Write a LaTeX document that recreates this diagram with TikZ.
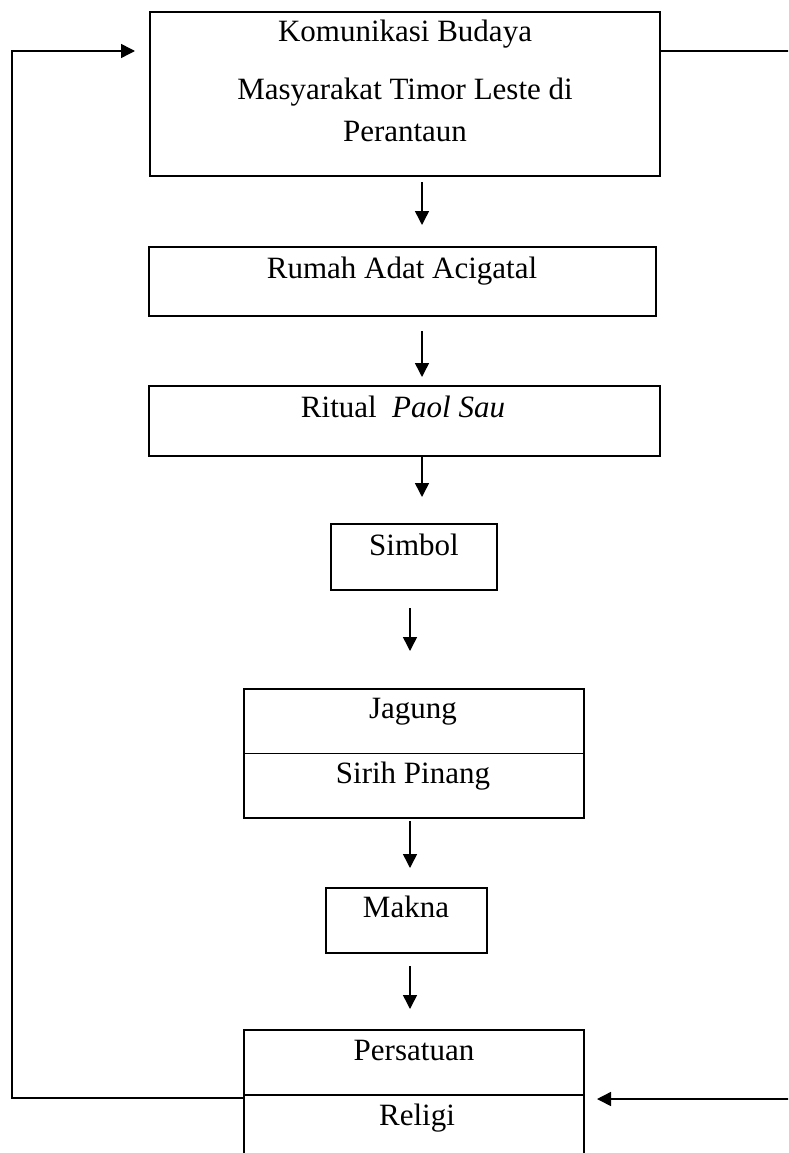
\documentclass[tikz,border=0pt]{standalone}
\usepackage{fontspec}
\setmainfont{Liberation Serif}
\usetikzlibrary{arrows.meta}
\begin{document}
\begin{tikzpicture}[x=1pt,y=-1pt,
  box/.style={draw,line width=2pt,inner sep=0pt},
  lbl/.style={anchor=base,inner sep=0pt,font=\fontsize{31}{37}\selectfont},
  arr/.style={line width=1.5pt,-{Triangle[length=14pt,width=14pt]}},
  fb/.style={line width=1.5pt}]
\useasboundingbox (0,0) rectangle (788,1153);
\fill[white] (0,0) rectangle (788,1153);
\clip (0,0) rectangle (788,1153);
% boxes
\node[box,minimum width=510pt,minimum height=164pt] (top) at (405,94) {};
\node[box,minimum width=507pt,minimum height=69pt] (rumah) at (402.5,281.5) {};
\node[box,minimum width=511pt,minimum height=70pt] (ritual) at (404.5,421) {};
\node[box,minimum width=166pt,minimum height=66pt] (simbol) at (414,557) {};
\node[box,minimum width=340pt,minimum height=129pt] (jag) at (414,753.5) {};
\node[box,minimum width=161pt,minimum height=65pt] (makna) at (406.5,920.5) {};
\node[box,minimum width=340pt,minimum height=130pt] (pr) at (414,1095) {};
\draw[line width=1.7pt] (jag.west) -- (jag.east);
\draw[line width=2pt] (pr.west) -- (pr.east);
% labels
\node[lbl] (t1) at (405,42) {Komunikasi Budaya};
\node[lbl] (t2) at (405,100) {Masyarakat Timor Leste di};
\node[lbl] (t3) at (405,142) {Perantaun};
\node[lbl] (t4) at (402,278) {Rumah Adat Acigatal};
\node[lbl] (t5) at (403,417) {Ritual\ \ \textit{Paol Sau}};
\node[lbl] (t6) at (414,555) {Simbol};
\node[lbl] (t7) at (413,718) {Jagung};
\node[lbl] (t8) at (413,783) {Sirih Pinang};
\node[lbl] (t9) at (406,917) {Makna};
\node[lbl] (t10) at (414,1060) {Persatuan};
\node[lbl] (t11) at (417,1125) {Religi};
% vertical arrows
\coordinate (a1s) at (422,182); \coordinate (a1e) at (422,225);
\coordinate (a2s) at (422,331); \coordinate (a2e) at (422,377);
\coordinate (a3s) at (422,457); \coordinate (a3e) at (422,497);
\coordinate (a4s) at (410,608); \coordinate (a4e) at (410,651);
\coordinate (a5s) at (410,821); \coordinate (a5e) at (410,868);
\coordinate (a6s) at (410,966); \coordinate (a6e) at (410,1009);
\draw[arr] (a1s) -- (a1e);
\draw[arr] (a2s) -- (a2e);
\draw[arr] (a3s) -- (a3e);
\draw[arr] (a4s) -- (a4e);
\draw[arr] (a5s) -- (a5e);
\draw[arr] (a6s) -- (a6e);
% feedback loop left
\coordinate (fbcorner) at (12,51);
\coordinate (fbtip) at (135,51);
\draw[arr] ([yshift=-3pt]pr.west) -| (fbcorner) -- (fbtip);
% right lines
\coordinate (rt) at (792,51);
\draw[fb] (top.east |- rt) -- (rt);
\coordinate (rb) at (792,1099);
\coordinate (rbtip) at (597,1099);
\draw[arr] (rb) -- (rbtip);
\end{tikzpicture}
\end{document}
